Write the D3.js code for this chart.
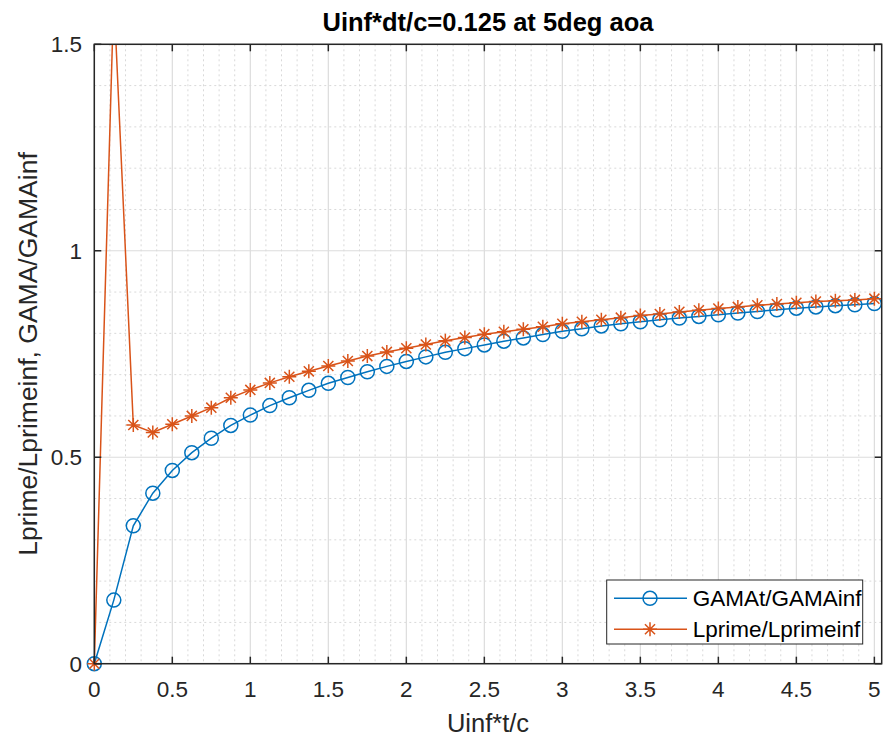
<!DOCTYPE html>
<html><head><meta charset="utf-8">
<script src="https://cdn.jsdelivr.net/npm/d3@7"></script>
<style>
html,body{margin:0;padding:0;background:#fff;}
svg{display:block;font-family:"Liberation Sans",Arial,sans-serif;}
</style></head>
<body><svg id="chart" width="884" height="740"></svg>
<script>
const tValues = [0,0.125,0.25,0.375,0.5,0.625,0.75,0.875,1,1.125,1.25,1.375,1.5,1.625,1.75,1.875,2,2.125,2.25,2.375,2.5,2.625,2.75,2.875,3,3.125,3.25,3.375,3.5,3.625,3.75,3.875,4,4.125,4.25,4.375,4.5,4.625,4.75,4.875,5];
const gamaRatio = [0,0.154,0.334,0.413,0.468,0.511,0.546,0.577,0.602,0.625,0.644,0.662,0.679,0.693,0.707,0.720,0.732,0.743,0.754,0.763,0.772,0.781,0.789,0.797,0.805,0.811,0.818,0.823,0.828,0.833,0.837,0.841,0.845,0.849,0.853,0.857,0.861,0.864,0.867,0.869,0.872];
const liftRatio = [0,1.62,0.578,0.560,0.580,0.600,0.620,0.644,0.663,0.680,0.695,0.708,0.721,0.733,0.745,0.755,0.764,0.773,0.782,0.790,0.798,0.804,0.810,0.816,0.823,0.828,0.833,0.838,0.843,0.847,0.852,0.856,0.860,0.864,0.868,0.871,0.874,0.877,0.879,0.881,0.884];
const xTicks = [0,0.5,1,1.5,2,2.5,3,3.5,4,4.5,5];
const yTicks = [0,0.5,1,1.5];
const xMinor = [0.1,0.2,0.3,0.4,0.6,0.7,0.8,0.9,1.1,1.2,1.3,1.4,1.6,1.7,1.8,1.9,2.1,2.2,2.3,2.4,2.6,2.7,2.8,2.9,3.1,3.2,3.3,3.4,3.6,3.7,3.8,3.9,4.1,4.2,4.3,4.4,4.6,4.7,4.8,4.9];
const yMinor = [0.1,0.2,0.3,0.4,0.6,0.7,0.8,0.9,1.1,1.2,1.3,1.4];
const seriesNames = ["GAMAt/GAMAinf","Lprime/Lprimeinf"];
const titleText = "Uinf*dt/c=0.125 at 5deg aoa";
const xLabel = "Uinf*t/c";
const yLabel = "Lprime/Lprimeinf, GAMA/GAMAinf";

const colors = ["#0072BD","#D95319"];
const axisColor = "#262626";
const L=94.3, R=881.7, T=44.3, B=663.7;
const svg = d3.select("#chart");
const x = d3.scaleLinear().domain([0,5.047]).range([L,R]);
const y = d3.scaleLinear().domain([0,1.5]).range([B,T]);

// minor grid
const g = svg.append("g");
g.selectAll("line.xm").data(xMinor).join("line")
  .attr("x1",d=>x(d)).attr("x2",d=>x(d)).attr("y1",T).attr("y2",B)
  .attr("stroke","#d9d9d9").attr("stroke-width",1).attr("stroke-dasharray","2,3");
g.selectAll("line.ym").data(yMinor).join("line")
  .attr("y1",d=>y(d)).attr("y2",d=>y(d)).attr("x1",L).attr("x2",R)
  .attr("stroke","#d9d9d9").attr("stroke-width",1).attr("stroke-dasharray","2,3");
// major grid
g.selectAll("line.xg").data(xTicks).join("line")
  .attr("x1",d=>x(d)).attr("x2",d=>x(d)).attr("y1",T).attr("y2",B)
  .attr("stroke","#dcdcdc").attr("stroke-width",1.2);
g.selectAll("line.yg").data(yTicks).join("line")
  .attr("y1",d=>y(d)).attr("y2",d=>y(d)).attr("x1",L).attr("x2",R)
  .attr("stroke","#dcdcdc").attr("stroke-width",1.2);

// clip
svg.append("clipPath").attr("id","clip").append("rect")
  .attr("x",L).attr("y",T).attr("width",R-L).attr("height",B-T);

const series = [gamaRatio, liftRatio];
const line = d3.line().x(d=>x(d[0])).y(d=>y(d[1]));
series.forEach((vals,i)=>{
  const pts = tValues.map((t,j)=>[t,vals[j]]);
  svg.append("path").attr("d",line(pts)).attr("fill","none")
    .attr("stroke",colors[i]).attr("stroke-width",1.5).attr("clip-path","url(#clip)");
});

function circleMarker(sel,cx,cy,color){
  sel.append("circle").attr("cx",cx).attr("cy",cy).attr("r",7)
    .attr("fill","none").attr("stroke",color).attr("stroke-width",1.5);
}
function starMarker(sel,cx,cy,color){
  const s=7, d=s*0.72;
  const p=`M${cx-s},${cy}L${cx+s},${cy}M${cx},${cy-s}L${cx},${cy+s}M${cx-d},${cy-d}L${cx+d},${cy+d}M${cx-d},${cy+d}L${cx+d},${cy-d}`;
  sel.append("path").attr("d",p).attr("stroke",color).attr("stroke-width",1.5).attr("fill","none");
}
const mk = svg.append("g");
tValues.forEach((t,j)=>{
  if(gamaRatio[j]<=1.5) circleMarker(mk,x(t),y(gamaRatio[j]),colors[0]);
});
tValues.forEach((t,j)=>{
  if(liftRatio[j]<=1.5) starMarker(mk,x(t),y(liftRatio[j]),colors[1]);
});

// axes box
svg.append("rect").attr("x",L).attr("y",T).attr("width",R-L).attr("height",B-T)
  .attr("fill","none").attr("stroke",axisColor).attr("stroke-width",1.5);
const tk=7;
const ax = svg.append("g").attr("stroke",axisColor).attr("stroke-width",1.5);
xTicks.forEach(v=>{
  ax.append("line").attr("x1",x(v)).attr("x2",x(v)).attr("y1",B).attr("y2",B-tk);
  ax.append("line").attr("x1",x(v)).attr("x2",x(v)).attr("y1",T).attr("y2",T+tk);
});
yTicks.forEach(v=>{
  ax.append("line").attr("y1",y(v)).attr("y2",y(v)).attr("x1",L).attr("x2",L+tk);
  ax.append("line").attr("y1",y(v)).attr("y2",y(v)).attr("x1",R).attr("x2",R-tk);
});
// tick labels
const fmt = d=>String(d);
svg.append("g").selectAll("text").data(xTicks).join("text")
  .attr("x",d=>x(d)).attr("y",697).attr("text-anchor","middle")
  .attr("font-size",22.5).attr("fill",axisColor).text(fmt);
svg.append("g").selectAll("text").data(yTicks).join("text")
  .attr("x",82).attr("y",d=>y(d)+8).attr("text-anchor","end")
  .attr("font-size",22.5).attr("fill",axisColor).text(fmt);

// labels
svg.append("text").attr("x",488).attr("y",732).attr("text-anchor","middle")
  .attr("font-size",25.5).attr("fill",axisColor).text(xLabel);
svg.append("text").attr("transform",`translate(37,${(T+B)/2}) rotate(-90)`)
  .attr("text-anchor","middle").attr("font-size",26.5).attr("fill",axisColor).text(yLabel);
svg.append("text").attr("x",(L+R)/2).attr("y",31).attr("text-anchor","middle")
  .attr("font-size",25.5).attr("font-weight","bold").attr("fill","#000").text(titleText);

// legend
const lg = svg.append("g");
lg.append("rect").attr("x",606.7).attr("y",580).attr("width",256).attr("height",64)
  .attr("fill","#fff").attr("stroke",axisColor).attr("stroke-width",1);
seriesNames.forEach((name,i)=>{
  const cy = 598.3 + i*31;
  lg.append("line").attr("x1",614).attr("x2",687).attr("y1",cy).attr("y2",cy)
    .attr("stroke",colors[i]).attr("stroke-width",1.5);
  if(i===0) circleMarker(lg,650,cy,colors[0]); else starMarker(lg,650,cy,colors[1]);
  lg.append("text").attr("x",692.7).attr("y",cy+8).attr("font-size",22.5)
    .attr("fill","#000").text(name);
});
</script></body></html>
